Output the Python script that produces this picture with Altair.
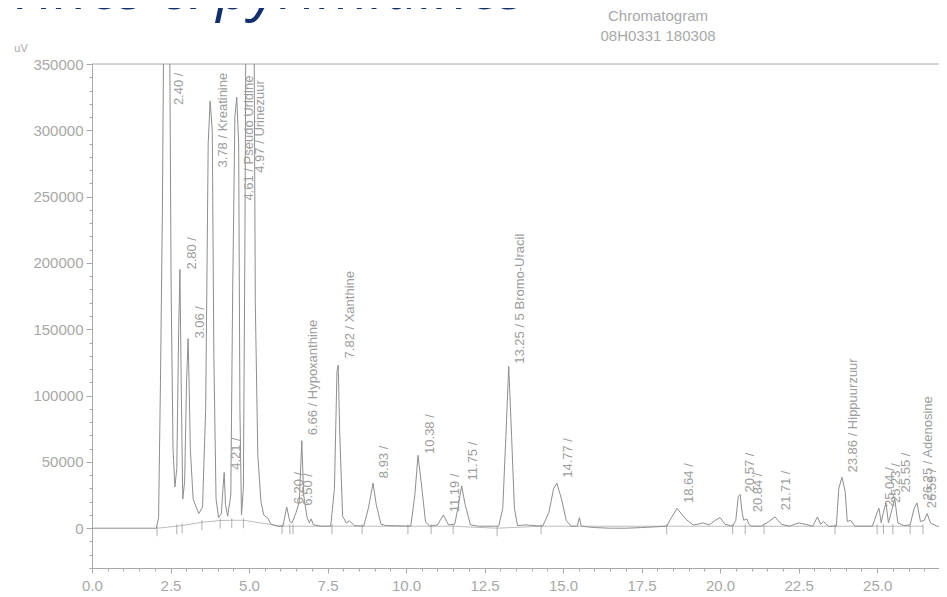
import altair as alt
import pandas as pd

# ---- chromatogram trace (time in min, signal in uV) ----
trace_time = [0.0, 2.05, 2.12, 2.18, 2.24, 2.30, 2.46, 2.52, 2.58, 2.64, 2.70, 2.76, 2.80, 2.84, 2.89,
              2.95, 3.01, 3.06, 3.09, 3.13, 3.22, 3.40, 3.52, 3.62, 3.70, 3.76, 3.83, 3.88, 3.95, 4.03,
              4.12, 4.17, 4.21, 4.25, 4.32, 4.42, 4.48, 4.55, 4.61, 4.67, 4.71, 4.76, 4.82, 4.87, 4.91,
              5.15, 5.20, 5.28, 5.38, 5.47, 5.60, 5.70, 5.90, 6.08, 6.20, 6.30, 6.37, 6.50, 6.60, 6.68,
              6.74, 6.85, 6.92, 6.98, 7.05, 7.30, 7.60, 7.72, 7.80, 7.84, 7.89, 7.98, 8.10, 8.20, 8.35,
              8.65, 8.80, 8.95, 9.05, 9.20, 9.35, 10.15, 10.28, 10.38, 10.48, 10.62, 10.75, 11.00, 11.19,
              11.35, 11.55, 11.65, 11.77, 11.88, 12.05, 12.30, 12.95, 13.08, 13.18, 13.27, 13.36, 13.45,
              13.55, 13.80, 14.35, 14.55, 14.70, 14.80, 14.95, 15.10, 15.25, 15.45, 15.52, 15.58, 16.00,
              16.50, 17.00, 17.50, 18.30, 18.45, 18.63, 18.90, 19.14, 19.30, 19.46, 19.65, 19.85, 20.00,
              20.15, 20.40, 20.50, 20.58, 20.64, 20.70, 20.75, 20.85, 20.92, 21.00, 21.30, 21.55, 21.75,
              21.95, 22.20, 22.50, 22.70, 22.95, 23.10, 23.20, 23.30, 23.45, 23.70, 23.78, 23.88, 23.98,
              24.05, 24.15, 24.30, 24.85, 25.00, 25.06, 25.13, 25.20, 25.28, 25.36, 25.45, 25.56, 25.66,
              25.85, 26.05, 26.18, 26.27, 26.38, 26.50, 26.59, 26.70, 26.90, 27.30, 28.00]
trace_signal = [0, 0, 8000, 110000, 236000, 430000, 430000, 180000, 60000, 31000, 45000, 150000, 195000, 110000, 22000,
                35000, 110000, 143000, 112000, 60000, 22000, 11000, 16000, 90000, 290000, 322000, 300000, 130000, 22000, 8000,
                11000, 30000, 42000, 18000, 9000, 25000, 180000, 310000, 325000, 290000, 90000, 10000, 30000, 220000, 430000,
                430000, 170000, 55000, 20000, 10000, 7500, 3000, 1500, 1500, 16000, 5000, 4000, 12000, 20000, 66000,
                25000, 8000, 4000, 7000, 2500, 1500, 1500, 30000, 118000, 123000, 70000, 9000, 4000, 5500, 2000,
                1500, 15000, 34000, 18000, 3000, 2000, 1500, 25000, 55000, 35000, 5000, 1500, 2500, 10000,
                2500, 3000, 15000, 32000, 18000, 2500, 1500, 1500, 15000, 70000, 122000, 70000, 15000,
                2000, 2500, 1500, 12000, 30000, 34000, 22000, 6000, 1500, 1500, 8000, 1500, 500,
                0, 0, 500, 1500, 8000, 15000, 7000, 2500, 3000, 4000, 2500, 6000, 8000,
                3000, 1500, 6000, 24000, 25500, 12000, 6000, 7000, 3000, 1500, 1500, 5000, 8500,
                3000, 1500, 4000, 3000, 1500, 8500, 3000, 5000, 1500, 1500, 30000, 38500, 28000,
                5000, 6000, 1500, 1500, 12000, 15000, 4000, 12000, 19000, 4000, 12000, 22500, 4000,
                2000, 2500, 15000, 19000, 5000, 6000, 11000, 4000, 1500, 1500, 1500]

# ---- integration baseline / peak boundary markers ----
boundary_time = [2.07, 2.70, 2.87, 3.50, 4.08, 4.45, 4.82, 6.05, 6.30, 6.40, 7.64, 8.60, 10.06, 10.80,
                 11.50, 12.90, 14.30, 18.30, 20.40, 20.80, 21.40, 23.66, 25.00, 25.20, 25.50, 26.05, 26.46]
boundary_signal = [0, 1500, 2000, 4500, 5800, 6000, 6000, 1500, 1500, 1500, 1500, 1500, 1500, 1500,
                   1500, 0, 1500, 1500, 1500, 1500, 1500, 1500, 1500, 1500, 1500, 1500, 1500]

# ---- peak annotations (retention time, name, where the label sits) ----
peak_time = [2.40, 2.80, 3.06, 3.78, 4.21, 4.61, 4.97, 6.20, 6.50, 6.66, 7.82, 8.93, 10.38, 11.19,
             11.75, 13.25, 14.77, 18.64, 20.57, 20.84, 21.71, 23.86, 25.04, 25.23, 25.55, 26.25, 26.59]
peak_name = ["", "", "", "Kreatinine", "", "Pseudo Uridine", "Urinezuur", "", "", "Hypoxanthine",
             "Xanthine", "", "", "", "", "5 Bromo-Uracil", "", "", "", "", "", "Hippuurzuur", "", "", "",
             "Adenosine", ""]
label_time = [2.40, 2.80, 3.06, 3.78, 4.21, 4.61, 4.97, 6.20, 6.50, 6.66, 7.82, 8.93, 10.38, 11.19,
              11.75, 13.25, 14.77, 18.64, 20.57, 20.84, 21.71, 23.86, 25.04, 25.23, 25.55, 26.25, 26.38]
label_start = [319000, 195000, 143000, 272000, 44000, 247000, 268000, 18000, 17000, 70000, 128000,
               37700, 56000, 12000, 36000, 124000, 38000, 19000, 27000, 12000, 13500, 42000, 16000,
               19000, 27000, 21000, 15000]

# ---- axes ----
x_major = [0.0, 2.5, 5.0, 7.5, 10.0, 12.5, 15.0, 17.5, 20.0, 22.5, 25.0]
x_ticks = [i * 0.5 for i in range(0, 54)]
y_major = [0, 50000, 100000, 150000, 200000, 250000, 300000, 350000]
y_ticks = [i * 10000 for i in range(-3, 36)]
x_range = [0, 26.97]
y_range = [-30000, 350000]

chart_title = "Chromatogram"
chart_subtitle = "08H0331 180308"
slide_title = "Purines & pyrimidines"
unit_label = "uV"

GRAY = "#a8a8a8"
LINE = "#8e8e8e"
FONT = "Liberation Sans"
W, H = 847, 504

trace_df = pd.DataFrame({"t": trace_time, "v": trace_signal})
bound_df = pd.DataFrame({"t": boundary_time, "v": boundary_signal})
label_df = pd.DataFrame({
    "t": label_time,
    "v": label_start,
    "label": [f"{t:.2f} / {n}" if n else f"{t:.2f} /" for t, n in zip(peak_time, peak_name)],
})

xmaj = ",".join(str(v) for v in x_major)
ymaj = ",".join(str(v) for v in y_major)

x_axis = alt.Axis(
    values=x_ticks, title=None, grid=False,
    labelExpr=f"indexof([{xmaj}], datum.value) >= 0 ? format(datum.value, '.1f') : ''",
    tickSize={"condition": {"test": f"indexof([{xmaj}], datum.value) >= 0", "value": 5}, "value": 3},
    labelOverlap=False, labelFlush=False, labelPadding=5,
    labelFont=FONT, labelFontSize=15, labelColor=GRAY,
    domainColor=GRAY, tickColor=GRAY,
)
y_axis = alt.Axis(
    values=y_ticks, title=None, grid=False,
    labelExpr=f"indexof([{ymaj}], datum.value) >= 0 ? format(datum.value, 'd') : ''",
    tickSize={"condition": {"test": f"indexof([{ymaj}], datum.value) >= 0", "value": 6}, "value": 3},
    labelOverlap=False, labelFlush=False, labelPadding=3,
    labelFont=FONT, labelFontSize=15, labelColor=GRAY,
    domainColor=GRAY, tickColor=GRAY,
)

X = alt.X("t:Q", scale=alt.Scale(domain=x_range, nice=False, zero=False), axis=x_axis)
Y = alt.Y("v:Q", scale=alt.Scale(domain=y_range, nice=False, zero=False), axis=y_axis)

baseline = alt.Chart(bound_df).mark_line(color="#bdbdbd", strokeWidth=1, clip=True).encode(x=X, y=Y)
trace = alt.Chart(trace_df).mark_line(color=LINE, strokeWidth=1, clip=True).encode(x=X, y=Y)
ticks = alt.Chart(bound_df).mark_tick(
    orient="vertical", size=10, thickness=1, color=LINE, yOffset=3, clip=True
).encode(x=X, y=Y)
labels = alt.Chart(label_df).mark_text(
    angle=270, align="left", baseline="top", dy=6, fontSize=13, font=FONT, color="#9d9d9d"
).encode(x=X, y=Y, text="label:N")

frame_top = alt.Chart(pd.DataFrame({"s": [0]})).mark_rule(color=GRAY, strokeWidth=1).encode(
    x=alt.value(0), x2=alt.value(W), y=alt.value(0))

def note(text, x, y, **kw):
    return alt.Chart(pd.DataFrame({"s": [text]})).mark_text(**kw).encode(
        text="s:N", x=alt.value(x), y=alt.value(y))

big = note(slide_title, 433, -55, align="right", baseline="alphabetic", fontSize=60,
           fontStyle="italic", font="Open Sans", color="#13306e")
t1 = note(chart_title, 566, -48, align="center", baseline="middle", fontSize=15, font=FONT, color=GRAY)
t2 = note(chart_subtitle, 566, -28, align="center", baseline="middle", fontSize=15, font=FONT, color=GRAY)
uv = note(unit_label, -71, -15, align="center", baseline="middle", fontSize=11, font=FONT, color=GRAY)

chart = alt.layer(frame_top, baseline, trace, ticks, labels, big, t1, t2, uv).properties(
    width=W, height=H,
    autosize=alt.AutoSizeParams(type="none"),
    padding={"left": 84, "top": 56, "right": 0, "bottom": 29},
).configure_view(stroke=None)

chart.save("out.html", embed_options={"renderer": "svg", "actions": False})
